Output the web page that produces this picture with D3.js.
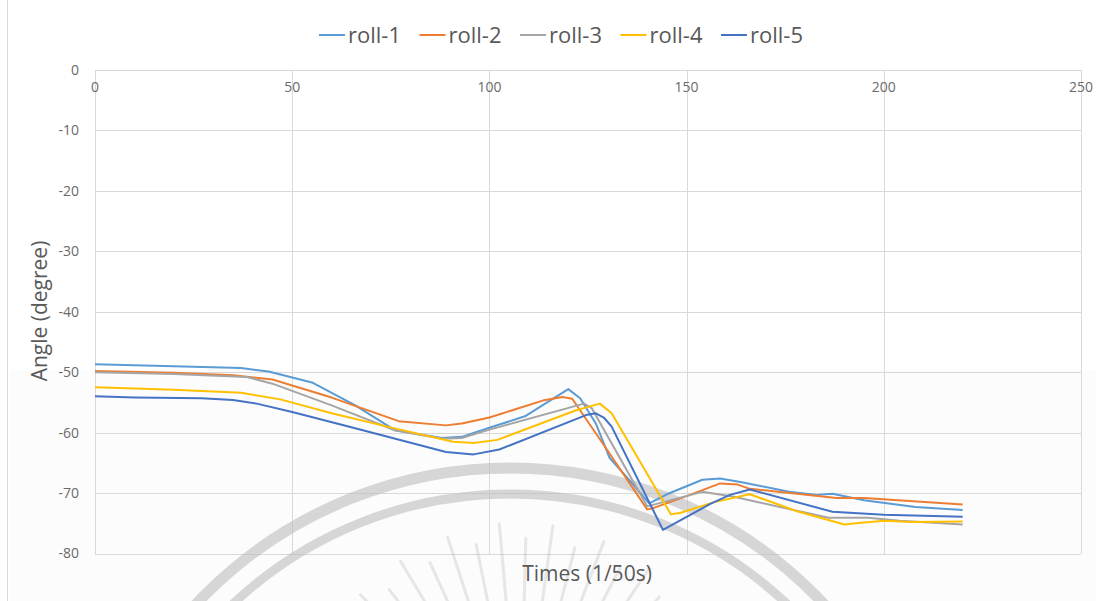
<!DOCTYPE html>
<html>
<head>
<meta charset="utf-8">
<script src="https://cdn.jsdelivr.net/npm/d3@7"></script>
<style>
  html, body { margin: 0; padding: 0; background: #ffffff; }
  svg { display: block; }
  text { font-family: "Open Sans", "Liberation Sans", sans-serif; fill: #595959; }
</style>
</head>
<body>
<svg id="chart" width="1106" height="601"></svg>
<script>
// Roll angle (degree) against time in 1/50 s steps, five trials
const seriesNames = ["roll-1", "roll-2", "roll-3", "roll-4", "roll-5"];
const seriesColors = ["#5B9BD5", "#ED7D31", "#A5A5A5", "#FFC000", "#4472C4"];

const roll1 = [[0,-48.7],[20,-49.0],[37,-49.3],[44,-49.9],[55,-51.7],[66,-55.5],[76,-59.6],[88,-60.9],[93,-60.7],[100,-59.2],[109,-57.3],[120,-52.8],[123,-54.3],[127,-58.5],[130.5,-64.2],[135,-67.5],[140.5,-71.7],[145,-70.2],[154,-67.8],[158.5,-67.6],[164,-68.2],[176,-69.8],[183,-70.3],[187,-70.1],[195,-71.2],[208,-72.3],[220,-72.8]];
const roll2 = [[0,-49.8],[20,-50.1],[35,-50.5],[45,-51.2],[60,-54.2],[77,-58.1],[89,-58.8],[93,-58.5],[100,-57.5],[113.5,-54.7],[118.5,-54.1],[121,-54.4],[130,-63.0],[140,-72.7],[141.5,-72.5],[150,-70.5],[158.5,-68.4],[163,-68.6],[166,-69.3],[178,-70.1],[188,-70.8],[195,-70.8],[220,-71.9]];
const roll3 = [[0,-50.0],[20,-50.3],[38.5,-50.8],[45,-51.9],[60,-55.5],[76,-59.6],[88,-61.0],[93,-60.9],[100,-59.5],[124,-55.2],[126,-56.0],[140,-72.2],[154,-69.8],[162,-70.6],[186,-74.1],[196,-74.1],[204,-74.6],[220,-75.2]];
const roll4 = [[0,-52.5],[20,-52.9],[37,-53.4],[47,-54.5],[60,-56.8],[76,-59.3],[90.8,-61.5],[96,-61.7],[102,-61.2],[122,-56.3],[128,-55.2],[131,-56.8],[146,-73.5],[148.3,-73.3],[157,-71.5],[166,-70.2],[178,-73.0],[190,-75.2],[193,-75.0],[200,-74.6],[207,-74.8],[220,-74.7]];
const roll5 = [[0,-54.0],[10,-54.2],[27,-54.3],[35,-54.6],[41,-55.2],[50,-56.6],[65,-59.1],[89,-63.2],[96,-63.6],[102.5,-62.8],[124.5,-57.1],[127,-56.8],[129,-57.5],[131,-59.0],[144,-76.1],[156,-71.8],[161,-70.3],[166,-69.4],[187,-73.1],[200,-73.6],[220,-73.9]];
const seriesValues = [roll1, roll2, roll3, roll4, roll5];

const xTicks = [0, 50, 100, 150, 200, 250];
const yTicks = [0, -10, -20, -30, -40, -50, -60, -70, -80];
const xTitle = "Times (1/50s)";
const yTitle = "Angle (degree)";

const svg = d3.select("#chart");
const W = 1106, H = 601;
const plot = { left: 95, right: 1081, top: 70, bottom: 553.5 };

const x = d3.scaleLinear().domain([0, 250]).range([plot.left, plot.right]);
const y = d3.scaleLinear().domain([-80, 0]).range([plot.bottom, plot.top]);

// chart area frame and faint lower tint
svg.append("rect").attr("x", 10).attr("y", 370).attr("width", 1086).attr("height", H - 370)
  .attr("fill", "#fcfcfc");
svg.append("line").attr("x1", 7.5).attr("x2", 7.5).attr("y1", 0).attr("y2", H)
  .attr("stroke", "#d9d9d9").attr("stroke-width", 1);

// gridlines
const grid = svg.append("g").attr("stroke", "#d9d9d9").attr("stroke-width", 1).attr("shape-rendering", "crispEdges");
grid.selectAll("line.h").data(yTicks).join("line")
  .attr("class", "h")
  .attr("x1", plot.left).attr("x2", plot.right)
  .attr("y1", d => Math.round(y(d)) + 0.5).attr("y2", d => Math.round(y(d)) + 0.5);
grid.selectAll("line.v").data(xTicks).join("line")
  .attr("class", "v")
  .attr("y1", plot.top).attr("y2", plot.bottom)
  .attr("x1", d => Math.round(x(d)) + 0.5).attr("x2", d => Math.round(x(d)) + 0.5);

// background emblem (arcs and rays)
const emblem = svg.append("g").attr("fill", "none").attr("stroke", "#bdbdbd");
const ec = { cx: 510, cy: 898 };
[[430, 11], [404, 9]].forEach(([r, w]) => {
  emblem.append("circle").attr("cx", ec.cx).attr("cy", ec.cy).attr("r", r)
    .attr("stroke-width", w).attr("opacity", 0.6);
});
const rayC = { cx: 520, cy: 760 };
d3.range(-160, -18, 6.5).forEach((deg, i) => {
  const a = deg * Math.PI / 180;
  const r0 = (i % 2 ? 222 : 238) - 12 * Math.abs(Math.cos(a));
  const r1 = 120;
  emblem.append("line")
    .attr("x1", rayC.cx + r0 * Math.cos(a)).attr("y1", rayC.cy + r0 * Math.sin(a))
    .attr("x2", rayC.cx + r1 * Math.cos(a)).attr("y2", rayC.cy + r1 * Math.sin(a))
    .attr("stroke-width", 3).attr("stroke-linecap", "round").attr("opacity", 0.35);
});

// tick labels
svg.append("g").selectAll("text").data(yTicks).join("text")
  .attr("x", 79).attr("y", d => y(d)).attr("dy", "0.35em")
  .attr("text-anchor", "end").attr("font-size", 14).style("fill", "#6a6a6a")
  .text(d => d3.format("d")(d).replace("−", "-"));
svg.append("g").selectAll("text").data(xTicks).join("text")
  .attr("x", d => x(d)).attr("y", y(0) + 22)
  .attr("text-anchor", "middle").attr("font-size", 14).style("fill", "#6a6a6a")
  .text(d => d);

// axis titles
svg.append("text").attr("x", 587).attr("y", 581).attr("text-anchor", "middle")
  .attr("font-size", 21).text(xTitle);
svg.append("text").attr("transform", "translate(47,311) rotate(-90)").attr("text-anchor", "middle")
  .attr("font-size", 21).text(yTitle);

// series lines
const line = d3.line().x(d => x(d[0])).y(d => y(d[1]));
svg.append("g").selectAll("path").data(seriesValues).join("path")
  .attr("d", line)
  .attr("fill", "none")
  .attr("stroke", (d, i) => seriesColors[i])
  .attr("stroke-width", 2)
  .attr("stroke-linejoin", "round");

// legend
const lx = d3.scalePoint().domain(seriesNames).range([319, 721]);
const legend = svg.append("g").selectAll("g").data(seriesNames).join("g")
  .attr("transform", d => `translate(${lx(d)},35)`);
legend.append("line").attr("x1", 0).attr("x2", 26).attr("y1", 0).attr("y2", 0)
  .attr("stroke", (d, i) => seriesColors[i]).attr("stroke-width", 2);
legend.append("text").attr("x", 29).attr("y", 0).attr("dy", "0.35em")
  .attr("font-size", 22).text(d => d);
</script>
</body>
</html>
